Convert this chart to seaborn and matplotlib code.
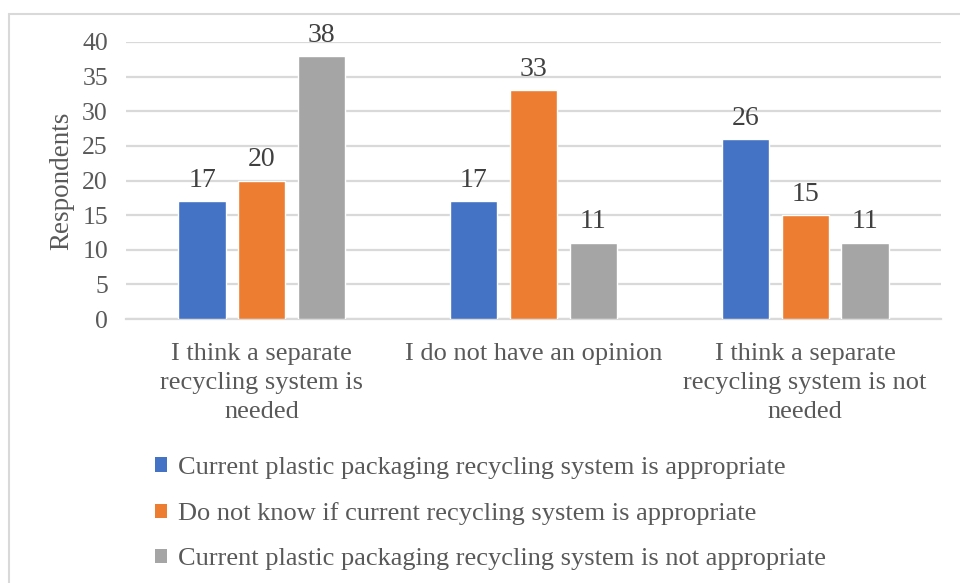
import matplotlib
matplotlib.use("Agg")
import matplotlib.pyplot as plt
from matplotlib.lines import Line2D
from matplotlib.patches import Patch
import pandas as pd
import seaborn as sns

# Survey answers (x-axis groups)
categories = [
    "I think a separate\nrecycling system is\nneeded",
    "I do not have an opinion",
    "I think a separate\nrecycling system is not\nneeded",
]
# Opinion on the current recycling system (bar series)
series = [
    "Current plastic packaging recycling system is appropriate",
    "Do not know if current recycling system is appropriate",
    "Current plastic packaging recycling system is not appropriate",
]
appropriate = [17, 17, 26]
do_not_know = [20, 33, 15]
not_appropriate = [38, 11, 11]
y_ticks = [0, 5, 10, 15, 20, 25, 30, 35, 40]
colors = ["#4472C4", "#ED7D31", "#A5A5A5"]

df = pd.DataFrame({
    "answer": categories * 3,
    "opinion": [series[0]] * 3 + [series[1]] * 3 + [series[2]] * 3,
    "count": appropriate + do_not_know + not_appropriate,
})

sns.set_theme(style="white")
plt.rcParams["font.family"] = ["Liberation Serif", "DejaVu Serif"]
text_color = "#595959"
grid_color = "#D9D9D9"

fig = plt.figure(figsize=(9.6, 5.83), dpi=100)
ax = fig.add_axes([126 / 960, 1 - 319 / 583, (941 - 126) / 960, (319 - 42) / 583])

sns.barplot(
    data=df, x="answer", y="count", hue="opinion",
    order=categories, hue_order=series, palette=colors,
    width=0.66, gap=0.21, saturation=1, ax=ax, legend=False, zorder=3,
)

for container in ax.containers:
    ax.bar_label(container, padding=6, fontsize=20, color="#404040")

ax.set_ylim(0, 40)
ax.set_xlim(-0.5, 2.5)
ax.set_yticks(y_ticks)
ax.set_yticklabels([str(t) for t in y_ticks], fontsize=18.5, color=text_color)
ax.tick_params(axis="x", labelsize=19, labelcolor=text_color, length=0, pad=17)
ax.tick_params(axis="y", length=0, pad=13)
for lbl in ax.get_xticklabels():
    lbl.set_multialignment("center")
    lbl.set_linespacing(1.43)

ax.yaxis.grid(True, color=grid_color, linewidth=1.6, zorder=0)
ax.set_axisbelow(True)
for side in ["top", "right", "left"]:
    ax.spines[side].set_visible(False)
ax.spines["bottom"].set_color(grid_color)
ax.spines["bottom"].set_linewidth(1.6)

ax.set_xlabel("")
ax.set_ylabel("Respondents", fontsize=19.5, color=text_color, labelpad=6)

handles = [Patch(facecolor=c, edgecolor="none") for c in colors]
fig.legend(
    handles, series, loc="upper left", bbox_to_anchor=(155 / 960, 1 - 457 / 583),
    frameon=False, fontsize=19, labelcolor=text_color,
    handlelength=0.46, handleheight=0.46, handletextpad=0.42, labelspacing=0.88,
    borderaxespad=0, borderpad=0,
)

# Chart frame (top and left edges)
fig.add_artist(Line2D([8.5 / 960, 1], [1 - 13.5 / 583] * 2, color=grid_color, linewidth=1.5))
fig.add_artist(Line2D([8.5 / 960] * 2, [0, 1 - 13.5 / 583], color=grid_color, linewidth=1.5))

fig.savefig("out.png", dpi=100)
